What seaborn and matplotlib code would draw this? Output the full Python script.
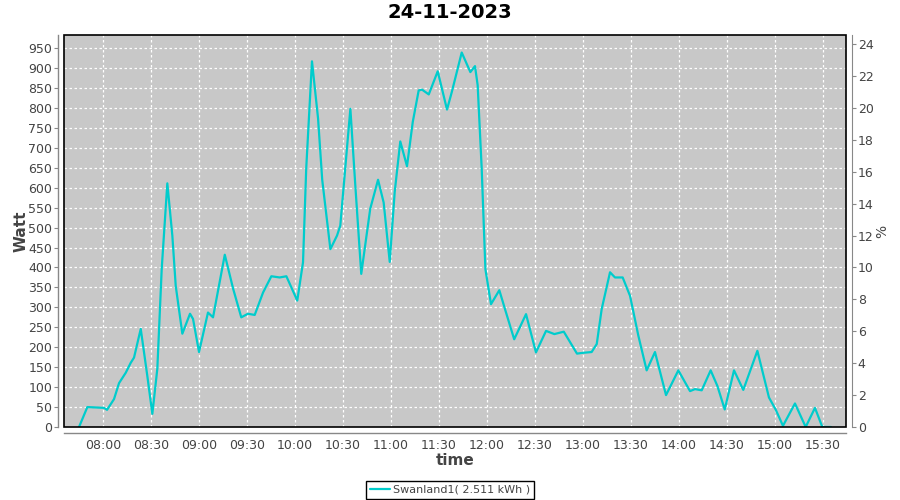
import numpy as np
import pandas as pd
import matplotlib
matplotlib.use("Agg")
import matplotlib.pyplot as plt
import matplotlib.dates as mdates
from matplotlib.patches import Rectangle
import seaborn as sns

# readings of 24-11-2023 (time, watt)
times = [
    "07:45:00", "07:50:12", "08:00:36", "08:02:30", "08:06:52", "08:10:00",
    "08:14:11", "08:17:19", "08:19:22", "08:23:34", "08:27:41", "08:30:49",
    "08:33:56", "08:36:41", "08:40:11", "08:43:19", "08:45:26", "08:49:34",
    "08:54:22", "08:56:15", "09:00:00", "09:05:36", "09:08:45", "09:16:06",
    "09:21:18", "09:26:24", "09:30:36", "09:34:48", "09:40:00", "09:45:12",
    "09:50:24", "09:54:36", "10:01:24", "10:05:00", "10:07:00", "10:10:36",
    "10:14:24", "10:17:00", "10:22:06", "10:26:15", "10:28:18", "10:34:36",
    "10:37:42", "10:41:24", "10:47:00", "10:51:54", "10:55:24", "10:59:12",
    "11:02:18", "11:05:48", "11:10:00", "11:13:36", "11:17:18", "11:19:24",
    "11:23:36", "11:29:12", "11:35:00", "11:38:00", "11:44:12", "11:49:36",
    "11:52:30", "11:54:10", "11:56:42", "11:59:00", "12:02:30", "12:07:42",
    "12:11:54", "12:17:00", "12:24:24", "12:30:36", "12:36:54", "12:42:06",
    "12:48:00", "12:56:15", "13:00:00", "13:05:24", "13:08:36", "13:11:42",
    "13:16:54", "13:20:00", "13:24:48", "13:29:24", "13:34:36", "13:39:48",
    "13:45:00", "13:51:54", "13:59:36", "14:06:54", "14:10:00", "14:14:12",
    "14:19:48", "14:24:00", "14:28:36", "14:34:24", "14:40:12", "14:49:00",
    "14:56:15", "15:00:24", "15:05:00", "15:12:30", "15:19:12", "15:25:00",
    "15:29:36", "15:35:00",
]
watt = [
    0, 50, 48, 43, 70, 110,
    136, 161, 174, 246, 128, 33,
    146, 397, 611, 480, 354, 234,
    284, 271, 188, 287, 275, 432,
    347, 275, 284, 281, 337, 378,
    375, 378, 317, 413, 648, 917,
    774, 620, 446, 480, 505, 798,
    605, 384, 547, 620, 563, 414,
    589, 716, 654, 765, 844, 846,
    834, 892, 796, 840, 939, 890,
    905, 857, 647, 396, 308, 343,
    287, 220, 283, 187, 241, 233,
    239, 184, 186, 188, 208, 296,
    388, 375, 375, 329, 229, 142,
    188, 80, 142, 90, 95, 92,
    142, 103, 44, 142, 93, 191,
    74, 44, 3, 59, 0, 48,
    0, 0,
]
watt_ticks = list(range(0, 951, 50))
pct_ticks = list(range(0, 25, 2))
legend_label = "Swanland1( 2.511 kWh )"
title = "24-11-2023"

df = pd.DataFrame({"time": pd.to_datetime(["2023-11-24 " + t for t in times]),
                   "watt": watt})

sns.set_style("white")
plt.rcParams["font.family"] = ["DejaVu Sans"]
txt = "#444444"
axis_gray = "#888888"

fig = plt.figure(figsize=(9, 5), dpi=100)
ax = fig.add_axes([64 / 900, 1 - 427 / 500, (846 - 64) / 900, (427 - 35) / 500])
ax.set_facecolor("#c8c8c8")

sns.lineplot(data=df, x="time", y="watt", ax=ax, color="#00cccc", lw=1.6,
             label=legend_label, legend=False)

ymax = 983
ax.set_ylim(0, ymax)
ax.set_yticks(watt_ticks)
ax.set_xlim(pd.Timestamp("2023-11-24 07:35:36"), pd.Timestamp("2023-11-24 15:44:24"))
ax.xaxis.set_major_locator(mdates.MinuteLocator(byminute=[0, 30]))
ax.xaxis.set_major_formatter(mdates.DateFormatter("%H:%M"))

ax.grid(True, color="white", ls=(0, (2, 2)), lw=0.9)
ax.set_axisbelow(True)

for s in ["top", "right"]:
    ax.spines[s].set_visible(False)
for s in ["left", "bottom"]:
    ax.spines[s].set_position(("outward", 4))
    ax.spines[s].set_color(axis_gray)
    ax.spines[s].set_linewidth(1.0)
ax.tick_params(axis="both", colors=axis_gray, labelcolor=txt, labelsize=9,
               length=3, width=0.8, direction="out", pad=1.5)

ax.set_xlabel("time", fontsize=11, fontweight="bold", color=txt, labelpad=1)
ax.set_ylabel("Watt", fontsize=11, fontweight="bold", color=txt, labelpad=0)

# right axis in percent
ax2 = ax.twinx()
ax2.set_ylim(0, ymax / 40)
ax2.set_yticks(pct_ticks)
for s in ["top", "left", "bottom"]:
    ax2.spines[s].set_visible(False)
ax2.spines["right"].set_position(("outward", 4))
ax2.spines["right"].set_color(axis_gray)
ax2.tick_params(axis="y", colors=axis_gray, labelcolor=txt, labelsize=9,
                length=3, width=0.8, pad=1.5)
ax2.set_ylabel("%", fontsize=10, color=txt, labelpad=1)

# black frame round the plot area
ax.add_patch(Rectangle((0, 0), 1, 1, transform=ax.transAxes, fill=False,
                       edgecolor="black", lw=1.2, clip_on=False, zorder=10))

fig.suptitle(title, x=0.5, y=0.995, fontsize=14, fontweight="bold",
             va="top", color="black")

handles, labels = ax.get_legend_handles_labels()
leg = fig.legend(handles, labels, loc="lower center", bbox_to_anchor=(0.5, 0.003),
                 frameon=True, fancybox=False, edgecolor="black", framealpha=1,
                 fontsize=8, handlelength=1.8, handletextpad=0.2,
                 borderpad=0.35, borderaxespad=0)
leg.get_frame().set_linewidth(1.0)
for t in leg.get_texts():
    t.set_color(txt)

fig.savefig("out.png", dpi=100)
